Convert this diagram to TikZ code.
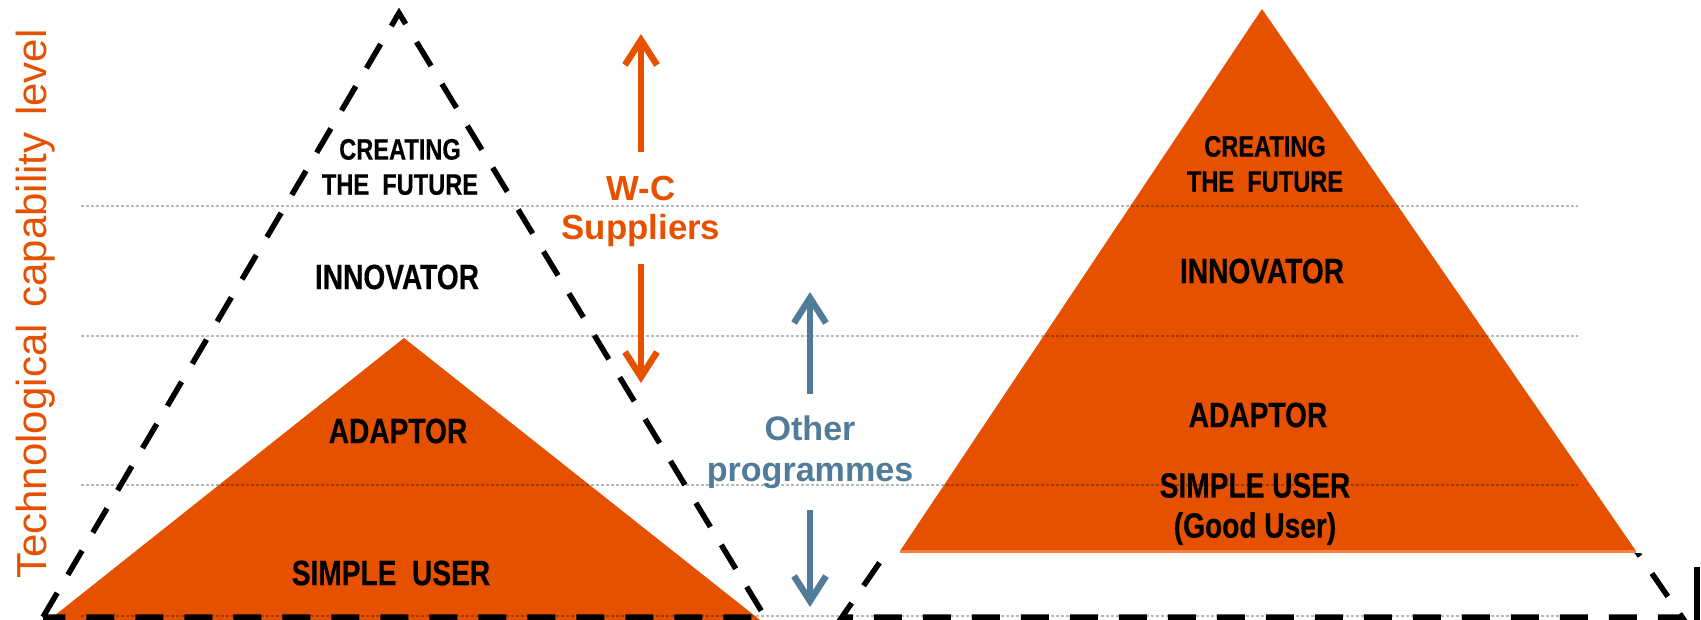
\documentclass[tikz,border=0pt]{standalone}
\usepackage{fontspec}
\setmainfont{Liberation Sans}
\newfontfamily\narrowfont{Liberation Sans}[FakeStretch=0.8,FakeBold=0.4]
\usepackage{xcolor}
\usetikzlibrary{arrows.meta,positioning}
\definecolor{ora}{RGB}{230,81,0}
\definecolor{oraedge}{RGB}{242,128,64}
\definecolor{prog}{RGB}{80,123,153}

\begin{document}
\begin{tikzpicture}[x=0.1mm,y=-0.1mm,
  level/.style={
    font=\narrowfont\bfseries\fontsize{10}{11.4}\selectfont,
    align=center,
    inner sep=0pt
  },
  toplevel/.style={
    font=\narrowfont\bfseries\fontsize{8.4}{10}\selectfont,
    align=center,
    inner sep=0pt
  },
  guide/.style={
    black, opacity=.28,
    line width=0.25mm,
    dash pattern=on 0.3mm off 0.2mm
  },
  frame/.style={
    line width=0.55mm,
    dash pattern=on 2.8mm off 2.1mm
  },
  wcarrow/.style={
    ora, line width=0.65mm,
    -{Straight Barb[length=2.5mm,width=3.2mm]}
  },
  otarrow/.style={
    prog, line width=0.65mm,
    -{Straight Barb[length=2.5mm,width=3.2mm]}
  }]
  \useasboundingbox (0,0) rectangle (1701,620);

  % corners
  \coordinate (la) at (399,13);
  \coordinate (ll) at (43,617);
  \coordinate (lr) at (765,617);
  \coordinate (oa) at (404,338);
  \coordinate (ol) at (49,620);
  \coordinate (or) at (760,620);
  \coordinate (ra) at (1262,9);
  \coordinate (rl) at (842,617);
  \coordinate (rr) at (1682,617);
  \coordinate (pl) at (900,551);
  \coordinate (pr) at (1636,551);

  \fill[ora] (oa) -- (ol) -- (or) -- cycle;
  \begin{scope}
    \clip (0,553) rectangle (1701,620);
    \draw[frame] (ra) -- (rr) -- (rl) -- (ra);
  \end{scope}
  \fill[ora] (ra) -- (pl) -- (pr) -- cycle;
  \draw[oraedge,line width=0.3mm] (pl) -- (pr);
  \draw[frame] (ll) -- (la) -- (lr) -- cycle;
  \draw[line width=0.55mm] (1697,567) -- (1697,620);

  \foreach \y in {206,336,485,616}
    \draw[guide] (81,\y) -- (1578,\y);

  \node[rotate=90,text=ora,font=\fontsize{11.95}{14}\selectfont] (axis)
    at (36,304) {Technological\hspace{0.4em}capability\hspace{0.4em}level};

  \node[toplevel] (lcf) at (400,167) {CREATING\\THE\ \ FUTURE};
  \node[level] (lin) at (397,277) {INNOVATOR};
  \node[level] (lad) at (398,431) {ADAPTOR};
  \node[level] (lsu) at (391,573) {SIMPLE\ \ USER};

  \node[toplevel] (rcf) at (1265,164) {CREATING\\THE\ \ FUTURE};
  \node[level] (rin) at (1262,271) {INNOVATOR};
  \node[level] (rad) at (1258,415) {ADAPTOR};
  \node[level] (rsu) at (1255,509) {SIMPLE USER\\(Good User)};

  \node[text=ora,font=\bfseries\fontsize{9.9}{11.1}\selectfont,
    align=center,inner xsep=0pt,inner ysep=1.7mm] (wc)
    at (641,211) {W-C\\Suppliers};
  \coordinate (wctop) at (639,34);
  \coordinate (wcbot) at (641,383);
  \draw[wcarrow,shorten <=0.6mm] (wc) -- (wc |- wctop);
  \draw[wcarrow] (wc) -- (wc |- wcbot);

  \node[text=prog,font=\bfseries\fontsize{9.7}{11.7}\selectfont,
    align=center,inner xsep=0pt,inner ysep=2.1mm] (oth)
    at (810,452) {Other\\programmes};
  \coordinate (ottop) at (809,292);
  \coordinate (otbot) at (807,607);
  \draw[otarrow] (oth) -- (oth |- ottop);
  \draw[otarrow] (oth) -- (oth |- otbot);
\end{tikzpicture}
\end{document}
